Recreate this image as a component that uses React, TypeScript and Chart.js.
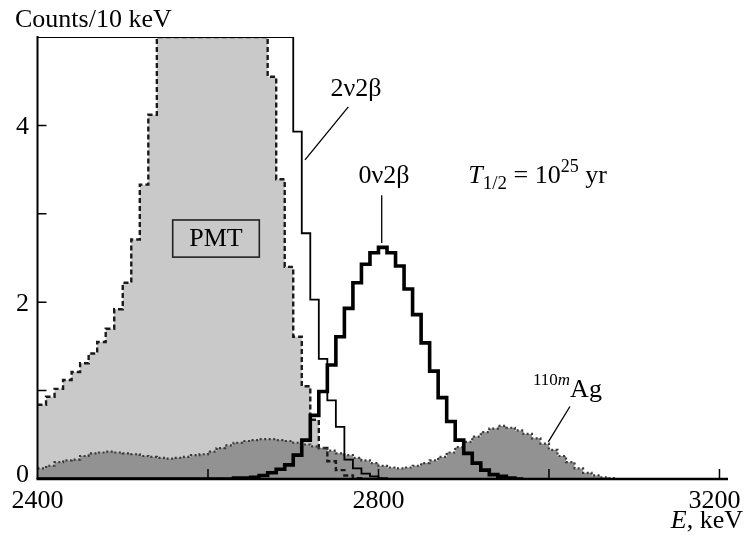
import React, { useEffect, useRef } from "react";
import { Chart, registerables } from "chart.js";

Chart.register(...registerables);

// ---------- data ----------
const BIN_START = 2400; // keV, left edge of first bin
const BIN_WIDTH = 10; // keV per bin
const X_MIN = 2400;
const X_MAX = 3210;
const Y_MIN = 0;
const Y_MAX = 5;
const X_TICKS = [2600, 2800, 3000, 3200];
const X_LABELS = [2400, 2800, 3200];
const Y_TICKS = [1, 2, 3, 4];
const Y_LABELS = [0, 2, 4];

// PMT background (counts / 10 keV), off-scale bins estimated above 5
const pmt = [
  0.84, 0.93, 1.02, 1.12, 1.21, 1.31, 1.42, 1.55, 1.7, 1.92,
  2.22, 2.71, 3.33, 4.12, 5.4, 6.2, 7.0, 7.6, 8.0, 8.2,
  8.1, 7.8, 7.3, 6.7, 6.1, 5.6, 5.2, 4.55, 3.39, 2.4,
  1.61, 1.05, 0.67, 0.35, 0.2, 0.1, 0.04, 0.01, 0, 0,
];

// 2nu2beta (off-scale below 2700 keV)
const twoNu = [
  40, 38, 36, 34, 32, 30, 28, 26, 24, 22,
  20, 19, 18, 17, 16, 15, 14, 13, 12, 11,
  10.5, 10, 9.5, 9, 8.5, 8, 7.5, 7, 6.5, 5.8,
  3.93, 2.78, 2.03, 1.36, 0.89, 0.59, 0.22, 0.12, 0.06, 0.03,
  0.01, 0,
];

// 0nu2beta for T1/2 = 1e25 yr
const zeroNu = [
  0, 0, 0, 0, 0, 0, 0, 0, 0, 0,
  0, 0, 0, 0, 0, 0, 0, 0, 0, 0,
  0, 0, 0, 0.01, 0.01, 0.02, 0.04, 0.07, 0.11, 0.16,
  0.27, 0.44, 0.72, 0.99, 1.29, 1.61, 1.93, 2.22, 2.43, 2.56,
  2.62, 2.56, 2.41, 2.15, 1.86, 1.54, 1.22, 0.92, 0.65, 0.44,
  0.29, 0.18, 0.1, 0.05, 0.03, 0.01, 0,
];

// 110mAg and other backgrounds
const silver = [
  0.12, 0.15, 0.19, 0.21, 0.22, 0.26, 0.29, 0.3, 0.31, 0.3,
  0.29, 0.28, 0.26, 0.25, 0.24, 0.23, 0.24, 0.25, 0.27, 0.28,
  0.31, 0.35, 0.38, 0.41, 0.43, 0.44, 0.45, 0.45, 0.44, 0.43,
  0.41, 0.39, 0.37, 0.35, 0.32, 0.29, 0.27, 0.24, 0.21, 0.18,
  0.15, 0.13, 0.12, 0.13, 0.15, 0.18, 0.21, 0.25, 0.3, 0.36,
  0.42, 0.48, 0.53, 0.57, 0.6, 0.58, 0.55, 0.51, 0.46, 0.4,
  0.33, 0.26, 0.19, 0.12, 0.07, 0.04, 0.02, 0.01, 0, 0,
  0, 0, 0, 0, 0, 0, 0, 0, 0, 0,
];

// ---------- styles ----------
const FONT = '"Liberation Serif", "Times New Roman", Times, serif';
const LIGHT = "rgb(201,201,201)";
const DARK = "rgb(146,146,146)";

// annotation anchors in data units (keV, counts)
const ANN_2NU = { x: 2773.6, y: 4.33, from: [2764.6, 4.21], to: [2713.8, 3.61] };
const ANN_0NU = { x: 2806.5, y: 3.35, from: [2803.8, 3.21], to: [2803.8, 2.67] };
const ANN_T = { x: 2905.3, y: 3.35 };
const ANN_AG = { x: 2981.2, y: 0.93, from: [3024.6, 0.82], to: [2999.2, 0.42] };
const ANN_PMT = { x0: 2558.6, x1: 2660.2, y0: 2.51, y1: 2.93 };

function toSteps(values: number[]) {
  const pts = values.map((v, i) => ({ x: BIN_START + i * BIN_WIDTH, y: Math.min(v, Y_MAX) }));
  pts.push({
    x: BIN_START + values.length * BIN_WIDTH,
    y: Math.min(values[values.length - 1], Y_MAX),
  });
  return pts;
}

const decorPlugin = {
  id: "decor",
  afterDatasetsDraw(chart: any) {
    const ctx: CanvasRenderingContext2D = chart.ctx;
    const xs = chart.scales.x;
    const ys = chart.scales.y;
    const X = (v: number) => xs.getPixelForValue(v);
    const Y = (v: number) => ys.getPixelForValue(v);
    const { left, right, top, bottom } = chart.chartArea;

    ctx.save();
    ctx.fillStyle = "#000";
    ctx.strokeStyle = "#000";

    // PMT box
    const bx0 = X(ANN_PMT.x0), bx1 = X(ANN_PMT.x1), by0 = Y(ANN_PMT.y1), by1 = Y(ANN_PMT.y0);
    ctx.fillStyle = LIGHT;
    ctx.fillRect(bx0, by0, bx1 - bx0, by1 - by0);
    ctx.lineWidth = 1.6;
    ctx.strokeStyle = "#222";
    ctx.strokeRect(bx0, by0, bx1 - bx0, by1 - by0);
    ctx.fillStyle = "#000";
    ctx.font = `26px ${FONT}`;
    ctx.textAlign = "center";
    ctx.textBaseline = "middle";
    ctx.fillText("PMT", (bx0 + bx1) / 2, (by0 + by1) / 2 + 1);

    // axes
    ctx.strokeStyle = "#000";
    ctx.lineWidth = 2;
    ctx.beginPath();
    ctx.moveTo(left, top - 1);
    ctx.lineTo(left, bottom);
    ctx.stroke();
    ctx.lineWidth = 2.5;
    ctx.beginPath();
    ctx.moveTo(left - 1, bottom);
    ctx.lineTo(right, bottom);
    ctx.stroke();

    // inward ticks
    ctx.lineWidth = 1.5;
    ctx.beginPath();
    for (const t of Y_TICKS) {
      ctx.moveTo(left, Y(t));
      ctx.lineTo(left + 9, Y(t));
    }
    for (const t of X_TICKS) {
      ctx.moveTo(X(t), bottom);
      ctx.lineTo(X(t), bottom - 10);
    }
    ctx.stroke();

    // tick labels
    ctx.font = `26px ${FONT}`;
    ctx.textBaseline = "alphabetic";
    ctx.textAlign = "right";
    for (const t of Y_LABELS) {
      ctx.fillText(String(t), 29, Math.min(Y(t) + 9, bottom + 3));
    }
    ctx.textAlign = "center";
    for (const t of X_LABELS) {
      let cx = X(t);
      if (t === X_LABELS[X_LABELS.length - 1]) cx -= 5;
      ctx.fillText(String(t), cx, 508);
    }

    // axis titles
    ctx.textAlign = "left";
    ctx.fillText("Counts/10 keV", 15, 27);
    ctx.textAlign = "right";
    ctx.fillText(", keV", 743, 528);
    const w = ctx.measureText(", keV").width;
    ctx.font = `italic 26px ${FONT}`;
    ctx.fillText("E", 743 - w, 528);

    // leader lines
    ctx.lineWidth = 1.3;
    ctx.beginPath();
    for (const a of [ANN_2NU, ANN_0NU, ANN_AG]) {
      ctx.moveTo(X(a.from[0]), Y(a.from[1]));
      ctx.lineTo(X(a.to[0]), Y(a.to[1]));
    }
    ctx.stroke();

    // labels
    ctx.font = `26px ${FONT}`;
    ctx.textAlign = "center";
    ctx.fillText("2\u03bd2\u03b2", X(ANN_2NU.x), Y(ANN_2NU.y));
    ctx.fillText("0\u03bd2\u03b2", X(ANN_0NU.x), Y(ANN_0NU.y));

    // T1/2 = 10^25 yr
    ctx.textAlign = "left";
    let x = X(ANN_T.x);
    const base = Y(ANN_T.y);
    ctx.font = `italic 26px ${FONT}`;
    ctx.fillText("T", x, base);
    x += ctx.measureText("T").width;
    ctx.font = `19px ${FONT}`;
    ctx.fillText("1/2", x, base + 6);
    x += ctx.measureText("1/2").width;
    ctx.font = `26px ${FONT}`;
    ctx.fillText(" = 10", x, base);
    x += ctx.measureText(" = 10").width;
    ctx.font = `18px ${FONT}`;
    ctx.fillText("25", x, base - 11);
    x += ctx.measureText("25").width;
    ctx.font = `26px ${FONT}`;
    ctx.fillText(" yr", x, base);

    // 110mAg
    let ax = X(ANN_AG.x);
    const abase = Y(ANN_AG.y);
    ctx.font = `17px ${FONT}`;
    ctx.fillText("110", ax, abase - 12);
    ax += ctx.measureText("110").width;
    ctx.font = `italic 17px ${FONT}`;
    ctx.fillText("m", ax, abase - 12);
    ax += ctx.measureText("m").width;
    ctx.font = `26px ${FONT}`;
    ctx.fillText("Ag", ax, abase);

    ctx.restore();
  },
};

export default function App() {
  const ref = useRef<HTMLCanvasElement | null>(null);

  useEffect(() => {
    if (!ref.current) return;
    const line = (data: any, extra: any) => ({
      data,
      stepped: true,
      pointRadius: 0,
      tension: 0,
      ...extra,
    });
    const chart = new Chart(ref.current, {
      type: "line",
      data: {
        datasets: [
          line(toSteps(pmt), { order: 6, fill: "origin", backgroundColor: LIGHT, borderWidth: 0, borderColor: "rgba(0,0,0,0)" }),
          line(toSteps(silver), { order: 5, fill: "origin", backgroundColor: DARK, borderWidth: 0, borderColor: "rgba(0,0,0,0)" }),
          line(toSteps(pmt), { order: 4, fill: false, borderColor: "#1a1a1a", borderWidth: 2.4, borderDash: [5, 3] }),
          line(toSteps(silver), { order: 3, fill: false, borderColor: "#3a3a3a", borderWidth: 2.2, borderDash: [2, 2.5] }),
          line(toSteps(twoNu), { order: 1, fill: false, borderColor: "#000", borderWidth: 1.8 }),
          line(toSteps(zeroNu), { order: 0, fill: false, borderColor: "#000", borderWidth: 3.6 }),
        ],
      },
      options: {
        responsive: false,
        animation: false,
        devicePixelRatio: 1,
        layout: { padding: { left: 37.5, top: 37, right: 21, bottom: 60 } },
        plugins: { legend: { display: false }, tooltip: { enabled: false } },
        scales: {
          x: { type: "linear", min: X_MIN, max: X_MAX, display: false },
          y: { type: "linear", min: Y_MIN, max: Y_MAX, display: false },
        },
      },
      plugins: [decorPlugin],
    });
    return () => chart.destroy();
  }, []);

  return (
    <div style={{ position: "fixed", left: 0, top: 0, width: 749, height: 539, background: "#fff" }}>
      <canvas ref={ref} width={749} height={539} style={{ width: 749, height: 539 }} />
    </div>
  );
}
